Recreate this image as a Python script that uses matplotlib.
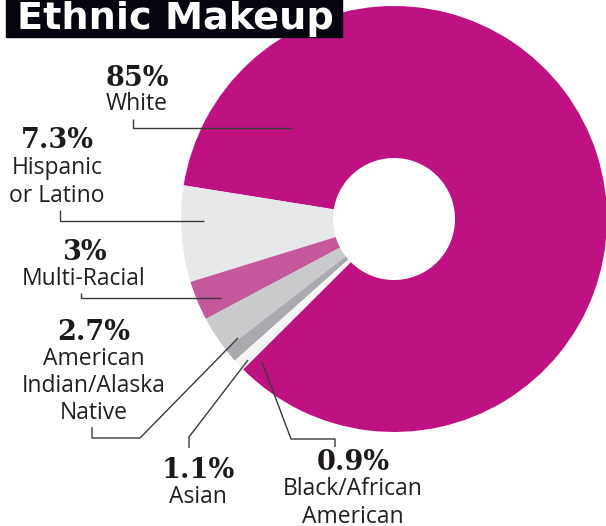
import matplotlib
matplotlib.use("Agg")
import matplotlib.pyplot as plt

# ---- data ----
categories = ["White", "Hispanic\nor Latino", "Multi-Racial",
              "American\nIndian/Alaska\nNative", "Asian", "Black/African\nAmerican"]
pct_labels = ["85%", "7.3%", "3%", "2.7%", "1.1%", "0.9%"]
values = [85, 7.3, 3, 2.7, 1.1, 0.9]
colors = ["#BE1282", "#E7E8EA", "#C5589A", "#C9CACC", "#A9AAAD", "#F6F6F6"]

W, H = 606, 526
fig = plt.figure(figsize=(W / 100, H / 100), dpi=100)
ax = fig.add_axes([0, 0, 1, 1])
ax.set_xlim(0, W)
ax.set_ylim(0, H)
ax.set_aspect("equal")
ax.axis("off")

def Y(y):  # image (top-down) -> data
    return H - y

cx, cy, R, r_hole = 394, 219, 213, 61
ax.pie(values, colors=colors, center=(cx, Y(cy)), radius=R,
       startangle=224.9, counterclock=True,
       wedgeprops=dict(width=R - r_hole, linewidth=0))
ax.set_xlim(0, W)
ax.set_ylim(0, H)

# ---- title ----
ax.add_patch(plt.Rectangle((6, Y(37)), 336, 37, color="#05050F", zorder=5))
ax.text(175, Y(29), "Ethnic Makeup", color="white", fontsize=27.5,
        fontweight="bold", family="DejaVu Sans", ha="center", va="baseline",
        zorder=6)

# ---- labels ----
txt_col = "#231F20"
pct_font = dict(family="DejaVu Serif", fontweight="bold", fontsize=19.5,
                color="#1E1A1B", ha="center", va="center")
lab_font = dict(family="Open Sans", fontsize=16.5, color=txt_col,
                ha="center", va="center", linespacing=1.17)

pct_pos = [(137, 78), (57, 141), (84, 252), (94, 332), (198, 470), (353, 463)]
lab_pos = [(137, 104), (57, 182), (84, 279), (94, 386), (198, 497), (353, 503)]
for p, c, pp, lp in zip(pct_labels, categories, pct_pos, lab_pos):
    ax.text(pp[0], Y(pp[1]), p, **pct_font)
    ax.text(lp[0], Y(lp[1]), c, **lab_font)

# ---- leader lines ----
line_col = "#3A3A3A"
leaders = [
    [(133, 119), (133, 128), (292, 128)],
    [(60, 210), (60, 221), (204, 221)],
    [(81, 293), (81, 298), (221, 298)],
    [(92, 427), (92, 438), (140, 438), (238, 338)],
    [(189, 448), (189, 437), (248, 360)],
    [(262, 362), (291, 439), (335, 439), (335, 447)],
]
for pts in leaders:
    xs = [p[0] for p in pts]
    ys = [Y(p[1]) for p in pts]
    ax.plot(xs, ys, color=line_col, lw=1.0, solid_capstyle="butt", zorder=4)

fig.savefig("out.png", dpi=100)
